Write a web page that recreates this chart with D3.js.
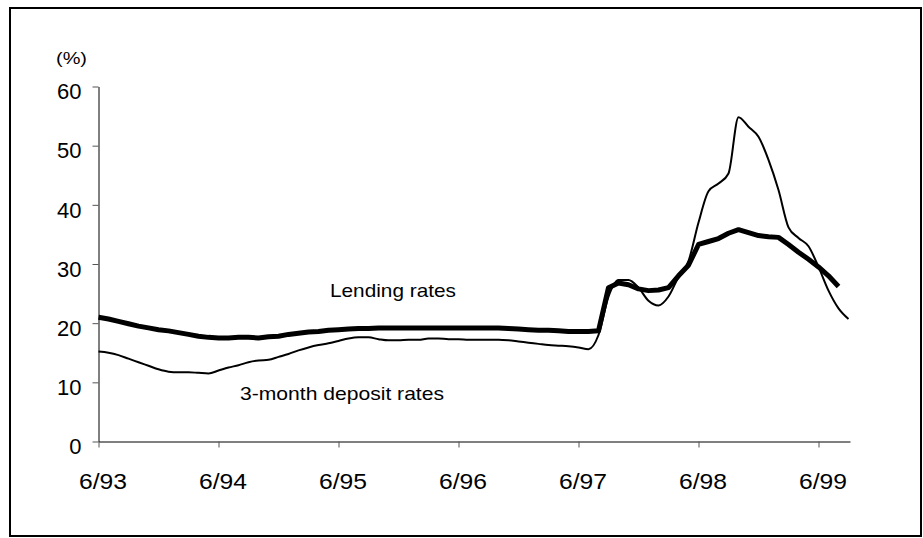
<!DOCTYPE html>
<html>
<head>
<meta charset="utf-8">
<script src="https://cdn.jsdelivr.net/npm/d3@7/dist/d3.min.js"></script>
<style>
  html, body { margin: 0; padding: 0; background: #fff; }
  svg { display: block; }
  text { font-family: Arial, "Liberation Sans", sans-serif; fill: #000; }
</style>
</head>
<body>
<svg id="chart" width="923" height="538"></svg>
<script>
// Monthly observations starting June 1993 (index 0 = 6/93)

// Lending rates (%)
const lendingRates = [
  21.0, 20.7, 20.3, 19.9, 19.5, 19.2, 18.9, 18.7, 18.4, 18.1, 17.8, 17.6,
  17.5, 17.5, 17.6, 17.6, 17.5, 17.7, 17.8, 18.1, 18.3, 18.5, 18.6, 18.8,
  18.9, 19.0, 19.1, 19.1, 19.2, 19.2, 19.2, 19.2, 19.2, 19.2, 19.2, 19.2,
  19.2, 19.2, 19.2, 19.2, 19.2, 19.1, 19.0, 18.9, 18.8, 18.8, 18.7, 18.6,
  18.6, 18.6, 18.7, 26.0, 26.8, 26.5, 25.8, 25.5, 25.6, 26.0, 28.0, 29.8,
  33.3, 33.8, 34.3, 35.2, 35.8, 35.3, 34.8, 34.6, 34.5, 33.3, 32.0, 30.8,
  29.5, 28.0, 26.2
];

// 3-month deposit rates (%)
const depositRates = [
  15.2, 15.0, 14.6, 14.0, 13.4, 12.8, 12.2, 11.8, 11.7, 11.7, 11.6, 11.5,
  12.0, 12.5, 12.9, 13.4, 13.7, 13.8, 14.3, 14.8, 15.4, 15.9, 16.3, 16.6,
  17.0, 17.4, 17.6, 17.6, 17.3, 17.1, 17.1, 17.2, 17.2, 17.4, 17.4, 17.3,
  17.3, 17.2, 17.2, 17.2, 17.2, 17.1, 16.9, 16.7, 16.5, 16.3, 16.2, 16.1,
  15.9, 15.6, 18.0, 24.5, 27.3, 27.3, 26.0, 23.8, 23.0, 24.5, 27.8, 30.5,
  37.0, 42.3, 43.6, 45.3, 54.8, 53.2, 51.5, 47.6, 42.5, 36.2, 34.4, 33.0,
  29.5, 25.5, 22.5, 20.7
];

// X-axis ticks: every June, 12 months apart
const xTickMonths = [0, 12, 24, 36, 48, 60, 72];
const xTickLabels = ["6/93", "6/94", "6/95", "6/96", "6/97", "6/98", "6/99"];

// Y-axis ticks
const yTicks = [0, 10, 20, 30, 40, 50, 60];

const svg = d3.select("#chart");

// Outer frame
svg.append("rect")
  .attr("x", 10).attr("y", 8)
  .attr("width", 911).attr("height", 528)
  .attr("fill", "none")
  .attr("stroke", "#000")
  .attr("stroke-width", 2);

const x = d3.scaleLinear().domain([0, 75.15]).range([98.5, 850]);
const y = d3.scaleLinear().domain([0, 60]).range([441.5, 86.5]);

// Y axis
const yAxis = svg.append("g")
  .attr("transform", `translate(${x(0)},0)`)
  .call(d3.axisLeft(y).tickValues(yTicks).tickSize(6).tickSizeOuter(0).tickPadding(11).tickFormat(d3.format("d")));
yAxis.select(".domain").attr("stroke", "#000");
yAxis.selectAll(".tick line").attr("stroke", "#555");
yAxis.selectAll(".tick text")
  .attr("font-size", 22)
  .attr("dy", "0.56em");

// X axis
const xAxis = svg.append("g")
  .attr("transform", `translate(0,${y(0)})`)
  .call(d3.axisBottom(x).tickValues(xTickMonths).tickSize(6).tickSizeOuter(0)
    .tickFormat((d, i) => xTickLabels[i]));
xAxis.select(".domain").attr("stroke", "#000");
xAxis.selectAll(".tick line").attr("stroke", "#555");
xAxis.selectAll(".tick text")
  .attr("font-size", 22)
  .attr("y", 47.5)
  .attr("dy", 0)
  .attr("dx", 4)
  .attr("textLength", 48)
  .attr("lengthAdjust", "spacingAndGlyphs");

// Unit label
svg.append("text")
  .attr("x", 56).attr("y", 63.5)
  .attr("font-size", 17)
  .attr("textLength", 31)
  .attr("lengthAdjust", "spacingAndGlyphs")
  .text("(%)");

// Series lines
const line = d3.line()
  .x((d, i) => x(i))
  .y(d => y(d));

svg.append("path")
  .datum(depositRates)
  .attr("fill", "none")
  .attr("stroke", "#000")
  .attr("stroke-width", 2)
  .attr("stroke-linejoin", "round")
  .attr("d", line.curve(d3.curveMonotoneX));

svg.append("path")
  .datum(lendingRates)
  .attr("fill", "none")
  .attr("stroke", "#000")
  .attr("stroke-width", 5)
  .attr("stroke-linejoin", "round")
  .attr("d", line.curve(d3.curveLinear));

// Series labels
svg.append("text")
  .attr("x", 330).attr("y", 297)
  .attr("font-size", 19)
  .attr("textLength", 126)
  .attr("lengthAdjust", "spacingAndGlyphs")
  .text("Lending rates");

svg.append("text")
  .attr("x", 240).attr("y", 400)
  .attr("font-size", 19)
  .attr("textLength", 204)
  .attr("lengthAdjust", "spacingAndGlyphs")
  .text("3-month deposit rates");
</script>
</body>
</html>
